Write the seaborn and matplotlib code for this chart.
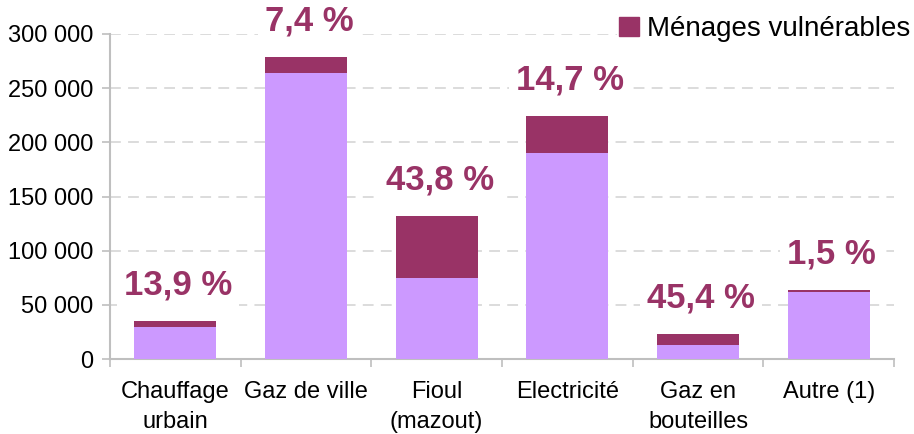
import matplotlib
matplotlib.use("Agg")
import matplotlib.pyplot as plt
import matplotlib.ticker as mticker
import matplotlib.patches as mpatches
import numpy as np
import pandas as pd
import seaborn as sns

# values
categories = ["Chauffage\nurbain", "Gaz de ville", "Fioul\n(mazout)", "Electricité", "Gaz en\nbouteilles", "Autre (1)"]
non_vulnerables = [29500, 264000, 74600, 190000, 12700, 61800]
vulnerables = [5300, 15000, 57300, 34300, 10100, 1700]
pct_labels = ["13,9 %", "7,4 %", "43,8 %", "14,7 %", "45,4 %", "1,5 %"]

lavender = "#CC99FF"
plum = "#993366"
grey = "#BFBFBF"

df = pd.DataFrame({"cat": categories, "base": non_vulnerables, "vuln": vulnerables})
df["total"] = df["base"] + df["vuln"]

sns.set_style("white")
plt.rcParams["font.family"] = ["Liberation Sans", "DejaVu Sans"]

fig = plt.figure(figsize=(9.14, 4.34), dpi=100)
ax = fig.add_axes([110 / 914, 1 - 359 / 434, (894 - 110) / 914, (359 - 34) / 434])

sns.barplot(data=df, x="cat", y="total", color=plum, saturation=1, width=0.63,
            linewidth=0, ax=ax, zorder=2)
sns.barplot(data=df, x="cat", y="base", color=lavender, saturation=1, width=0.63,
            linewidth=0, ax=ax, zorder=3)

ax.set_ylim(0, 300000)
ax.set_xlim(-0.5, len(categories) - 0.5)
ax.yaxis.set_major_locator(mticker.MultipleLocator(50000))
ax.yaxis.set_major_formatter(mticker.FuncFormatter(lambda v, p: f"{int(v):,}".replace(",", " ")))
ax.set_xlabel("")
ax.set_ylabel("")

# dashed grid
for yv in range(50000, 300001, 50000):
    ax.axhline(yv, color="#D9D9D9", lw=1.3, ls=(0, (6, 4)), zorder=0)

for s in ["top", "right"]:
    ax.spines[s].set_visible(False)
for s in ["left", "bottom"]:
    ax.spines[s].set_color(grey)
    ax.spines[s].set_linewidth(1.5)

ax.tick_params(axis="y", which="major", length=6, width=1.2, color=grey, pad=6,
               labelsize=17, labelcolor="black", left=True)
ax.tick_params(axis="x", which="major", length=0, pad=16, labelsize=17, labelcolor="black")
ax.set_xticks(range(len(categories)))
ax.set_xticklabels(categories, linespacing=1.45)
ax.set_xticks(np.arange(-0.5, len(categories)), minor=True)
ax.tick_params(axis="x", which="minor", length=6, width=1.2, color=grey, bottom=True)

# percentage labels above the bars
for i, (t, lab) in enumerate(zip(df["total"], pct_labels)):
    ax.annotate(lab, xy=(i, t), xytext=(3, 36), textcoords="offset pixels",
                ha="center", va="center", fontsize=25, fontweight="bold", color=plum,
                annotation_clip=False, zorder=4,
                bbox=dict(facecolor="white", edgecolor="none", pad=5))

handle = mpatches.Patch(color=plum)
leg = fig.legend([handle], ["Ménages vulnérables"], loc="center right",
                 bbox_to_anchor=(0.999, 1 - 29 / 434), fontsize=20, frameon=True,
                 handlelength=0.7, handleheight=0.7, handletextpad=0.3,
                 borderpad=0.1, borderaxespad=0)
leg.get_frame().set_facecolor("white")
leg.get_frame().set_edgecolor("none")
leg.get_frame().set_alpha(1)
for txt in leg.get_texts():
    txt.set_color("black")

fig.savefig("out.png", dpi=100)
